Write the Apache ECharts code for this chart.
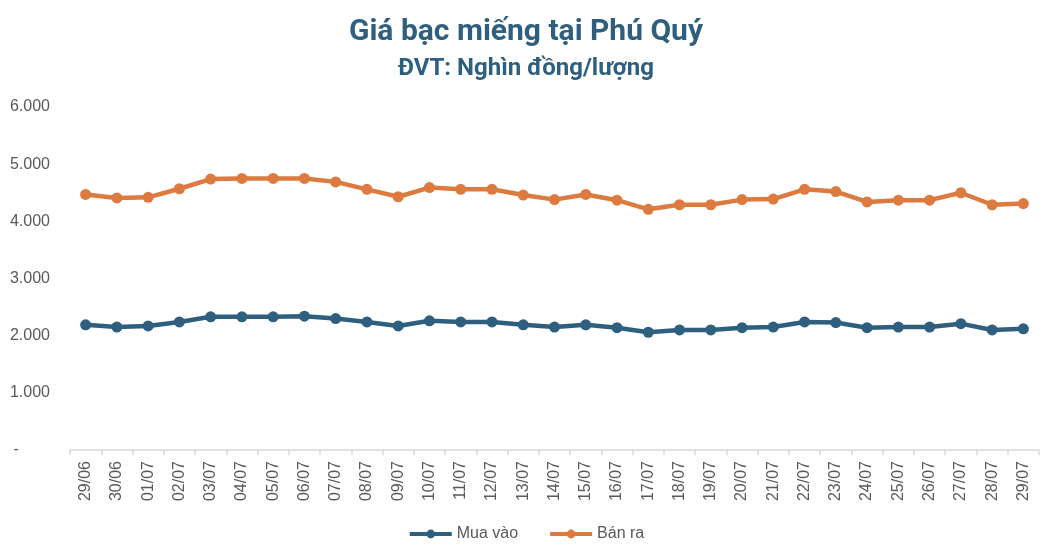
<!DOCTYPE html>
<html>
<head>
<meta charset="utf-8">
<script src="https://cdn.jsdelivr.net/npm/echarts@6/dist/echarts.min.js"></script>
<style>
  html, body { margin: 0; padding: 0; background: #fff; }
  #container { width: 1052px; height: 556px; }
</style>
</head>
<body>
<div id="container"></div>
<script>
// ngày
var days = ['29/06', '30/06', '01/07', '02/07', '03/07', '04/07', '05/07', '06/07', '07/07', '08/07',
    '09/07', '10/07', '11/07', '12/07', '13/07', '14/07', '15/07', '16/07', '17/07', '18/07',
    '19/07', '20/07', '21/07', '22/07', '23/07', '24/07', '25/07', '26/07', '27/07', '28/07', '29/07'];

// giá mua vào
var muaVao = [2190, 2150, 2170, 2240, 2330, 2330, 2330, 2340, 2300, 2240,
    2170, 2260, 2240, 2240, 2190, 2150, 2190, 2140, 2060, 2100,
    2100, 2140, 2150, 2240, 2230, 2140, 2150, 2150, 2210, 2100, 2120];

// giá bán ra
var banRa = [4470, 4410, 4420, 4570, 4740, 4750, 4750, 4750, 4690, 4560,
    4430, 4590, 4560, 4560, 4460, 4380, 4470, 4370, 4210, 4290,
    4290, 4380, 4390, 4560, 4520, 4340, 4370, 4370, 4500, 4290, 4310];

var seriesNames = ['Mua vào', 'Bán ra'];

var myChart = echarts.init(document.getElementById('container'));
var option = {
    animation: false,
    color: ['#2e5f7f', '#dc7a40'],
    title: {
        text: 'Giá bạc miếng tại Phú Quý',
        subtext: 'ĐVT: Nghìn đồng/lượng',
        left: 'center',
        top: 12,
        itemGap: 10,
        textStyle: {
            fontFamily: 'Liberation Sans Narrow, Roboto, sans-serif',
            fontSize: 30,
            fontWeight: 'bold',
            color: '#2e5f7f'
        },
        subtextStyle: {
            fontFamily: 'Liberation Sans Narrow, Roboto, sans-serif',
            fontSize: 24,
            fontWeight: 'bold',
            color: '#2e5f7f'
        }
    },
    legend: {
        bottom: 9,
        left: 'center',
        itemWidth: 42,
        itemHeight: 11,
        itemGap: 30,
        lineStyle: { width: 4 },
        textStyle: { fontSize: 16, color: '#595959', fontFamily: 'Liberation Sans Narrow, sans-serif' },
        data: seriesNames
    },
    grid: {
        left: 70,
        right: 13,
        top: 107,
        bottom: 106
    },
    xAxis: {
        type: 'category',
        data: days,
        axisLine: { lineStyle: { color: '#d9d9d9', width: 1.5 } },
        axisTick: { show: true, length: 5, lineStyle: { color: '#d9d9d9', width: 1.5 } },
        axisLabel: {
            rotate: 90,
            interval: 0,
            fontSize: 16,
            color: '#595959',
            margin: 11
        }
    },
    yAxis: {
        type: 'value',
        min: 0,
        max: 6000,
        interval: 1000,
        splitLine: { show: false },
        axisLine: { show: false },
        axisTick: { show: false },
        axisLabel: {
            fontSize: 16,
            color: '#595959',
            margin: 20,
            formatter: function (v) {
                if (v === 0) return '-       ';
                return String(v).replace(/\B(?=(\d{3})+(?!\d))/g, '.');
            }
        }
    },
    series: [{
        name: seriesNames[0],
        type: 'line',
        data: muaVao,
        symbol: 'circle',
        symbolSize: 11,
        lineStyle: { width: 4.5 }
    }, {
        name: seriesNames[1],
        type: 'line',
        data: banRa,
        symbol: 'circle',
        symbolSize: 11,
        lineStyle: { width: 4.5 }
    }]
};
myChart.setOption(option);
</script>
</body>
</html>
